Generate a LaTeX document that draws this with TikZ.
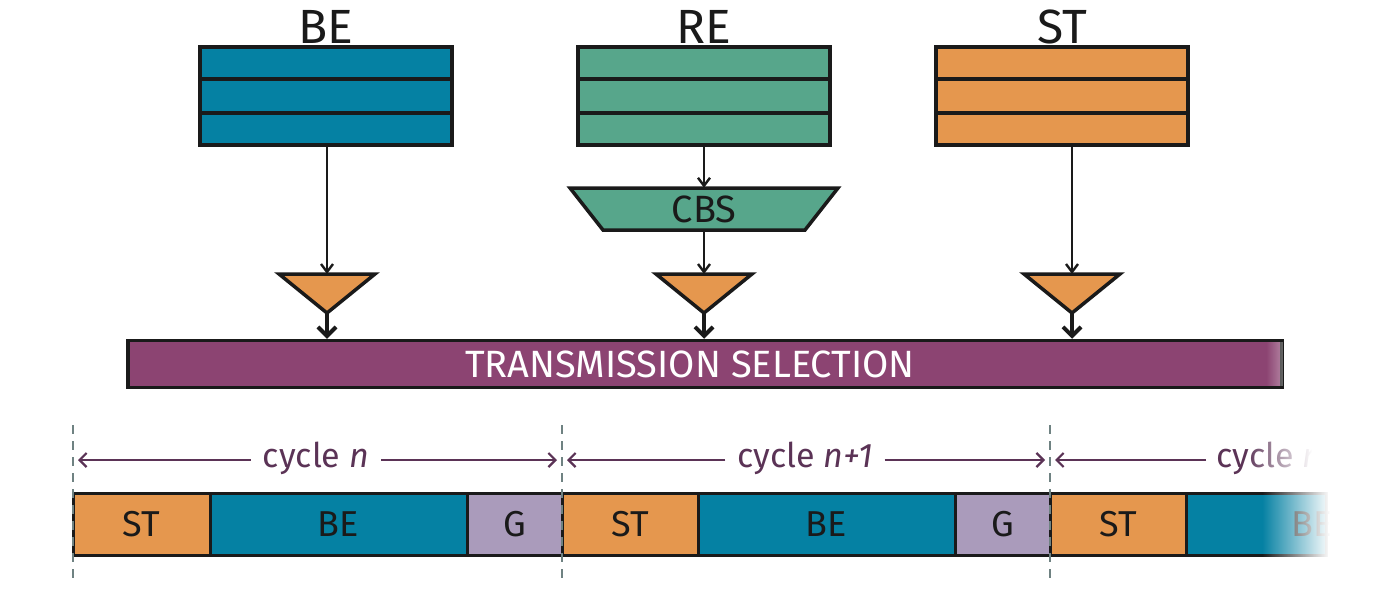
\documentclass[tikz,border=0pt]{standalone}
\usepackage{fontspec}
\setmainfont{Fira Sans}
\usetikzlibrary{arrows.meta,fadings,calc}
\definecolor{beC}{HTML}{0581A3}
\definecolor{reC}{HTML}{57A68B}
\definecolor{stC}{HTML}{E5974E}
\definecolor{tsC}{HTML}{8C4472}
\definecolor{gC}{HTML}{AA9BBB}
\definecolor{cycC}{HTML}{5B3356}
\definecolor{dashC}{HTML}{6F8282}
\definecolor{txtC}{HTML}{1A1A1A}
\tikzset{
  queue/.style={draw=txtC, line width=3.5pt, minimum width=252pt, minimum height=98pt, inner sep=0pt},
  toplabel/.style={anchor=base, font=\fontsize{48}{50}\selectfont, text=txtC, inner sep=0pt},
  thinarrow/.style={draw=txtC, line width=2.2pt, -{Straight Barb[length=8pt,width=12pt,line width=2.4pt]}},
  thickarrow/.style={draw=txtC, line width=4pt, -{Straight Barb[length=9pt,width=18pt,line width=4pt]}},
  tri/.style={fill=stC, draw=txtC, line width=3.5pt, line join=miter},
  seg/.style={draw=txtC, line width=3pt, minimum height=62pt, inner sep=0pt, font=\fontsize{36}{38}\selectfont, text=txtC},
  cyc/.style={draw=cycC, line width=2pt, -{Straight Barb[length=7pt,width=14pt,line width=2.2pt]}},
  cyclabel/.style={font=\fontsize{34}{36}\selectfont, text=cycC, inner sep=0pt},
  bound/.style={draw=dashC, line width=2.4pt, dash pattern=on 9pt off 7pt},
}
\begin{document}
\begin{tikzpicture}[x=1pt,y=-1pt]
\useasboundingbox (0,0) rectangle (1400,592);

% queues
\foreach \nm/\cx/\col/\lab in {be/326/beC/BE, re/704/reC/RE, st/1062/stC/ST}{
  \node[queue, fill=\col] (\nm) at (\cx,96) {};
  \draw[txtC, line width=3.5pt] ($(\nm.north west)!1/3!(\nm.south west)$) -- ($(\nm.north east)!1/3!(\nm.south east)$);
  \draw[txtC, line width=3.5pt] ($(\nm.north west)!2/3!(\nm.south west)$) -- ($(\nm.north east)!2/3!(\nm.south east)$);
  \node[toplabel] (\nm lab) at (\cx,43) {\lab};
}

% CBS
\draw[fill=reC, draw=txtC, line width=3.5pt, line join=miter] (570,188) -- (838,188) -- (805,230) -- (603,230) -- cycle;
\node[minimum width=204pt, minimum height=42pt, inner sep=0pt, font=\fontsize{38}{40}\selectfont, text=txtC] (cbs) at (704,209) {CBS};

% triangles
\foreach \nm/\cx in {t1/327, t2/704, t3/1072}{
  \coordinate (\nm top) at (\cx,274);
  \coordinate (\nm tip) at (\cx,313);
  \draw[tri] ($(\nm top)+(-48,0)$) -- ($(\nm top)+(48,0)$) -- (\nm tip) -- cycle;
}

% transmission selection bar
\node[draw=txtC, fill=tsC, line width=3.5pt, minimum width=1154pt, minimum height=47pt, inner sep=0pt] (ts) at (705,364) {};
\node[text=white, font=\fontsize{38}{40}\selectfont, inner sep=0pt] (tstext) at (690,364) {TRANSMISSION SELECTION};
\fill[white, opacity=0.35, path fading=west] (1266,342) rectangle (1283,386);

% connectors
\draw[thinarrow] (be.south -| t1top) -- (t1top);
\draw[thinarrow] (re.south) -- (cbs.north);
\draw[thinarrow] (cbs.south) -- (t2top);
\draw[thinarrow] (st.south -| t3top) -- (t3top);
\foreach \nm in {t1,t2,t3}{
  \draw[thickarrow] (\nm tip) -- (\nm tip |- ts.north);
}

% timeline segments
\node[seg, fill=stC, minimum width=137pt] (s1) at (141.5,524) {ST};
\node[seg, fill=beC, minimum width=257pt] (b1) at (338.5,524) {BE};
\node[seg, fill=gC,  minimum width=95pt]  (g1) at (514.5,524) {G};
\node[seg, fill=stC, minimum width=136pt] (s2) at (630,524) {ST};
\node[seg, fill=beC, minimum width=257pt] (b2) at (826.5,524) {BE};
\node[seg, fill=gC,  minimum width=95pt]  (g2) at (1002.5,524) {G};
\node[seg, fill=stC, minimum width=136pt] (s3) at (1118,524) {ST};
\node[seg, fill=beC, minimum width=140pt] (b3) at (1256,524) {};
\node[font=\fontsize{36}{38}\selectfont, text=txtC, inner sep=0pt] (b3lab) at (1312,524) {BE};

% boundaries
\foreach \nm/\bx in {d1/73, d2/562, d3/1050}{
  \coordinate (\nm a) at (\bx,425);
  \coordinate (\nm b) at (\bx,582);
  \coordinate (\nm l) at (\bx+5,460);
  \coordinate (\nm r) at (\bx-5,460);
  \draw[bound] (\nm a) -- (\nm b);
}

% cycle labels and arrows
\node[cyclabel] (c1) at (316,458) {cycle \textit{n}};
\node[cyclabel] (c2) at (805,458) {cycle \textit{n+1}};
\node[cyclabel, anchor=west] (c3) at (1216,458) {cycle \textit{n+2}};
\draw[cyc] (c1.west |- d1l) ++(-12,0) -- (d1l);
\draw[cyc] (c1.east |- d2r) ++(12,0) -- (d2r);
\draw[cyc] (c2.west |- d2l) ++(-12,0) -- (d2l);
\draw[cyc] (c2.east |- d3r) ++(12,0) -- (d3r);
\draw[cyc] (c3.west |- d3l) ++(-10,0) -- (d3l);

% fade out on the right
\fill[white, path fading=west] (1245,428) rectangle (1312,488);
\fill[white] (1312,428) rectangle (1400,488);
\fill[white, path fading=west] (1262,488) rectangle (1330,578);
\fill[white] (1330,488) rectangle (1400,578);
\end{tikzpicture}
\end{document}
